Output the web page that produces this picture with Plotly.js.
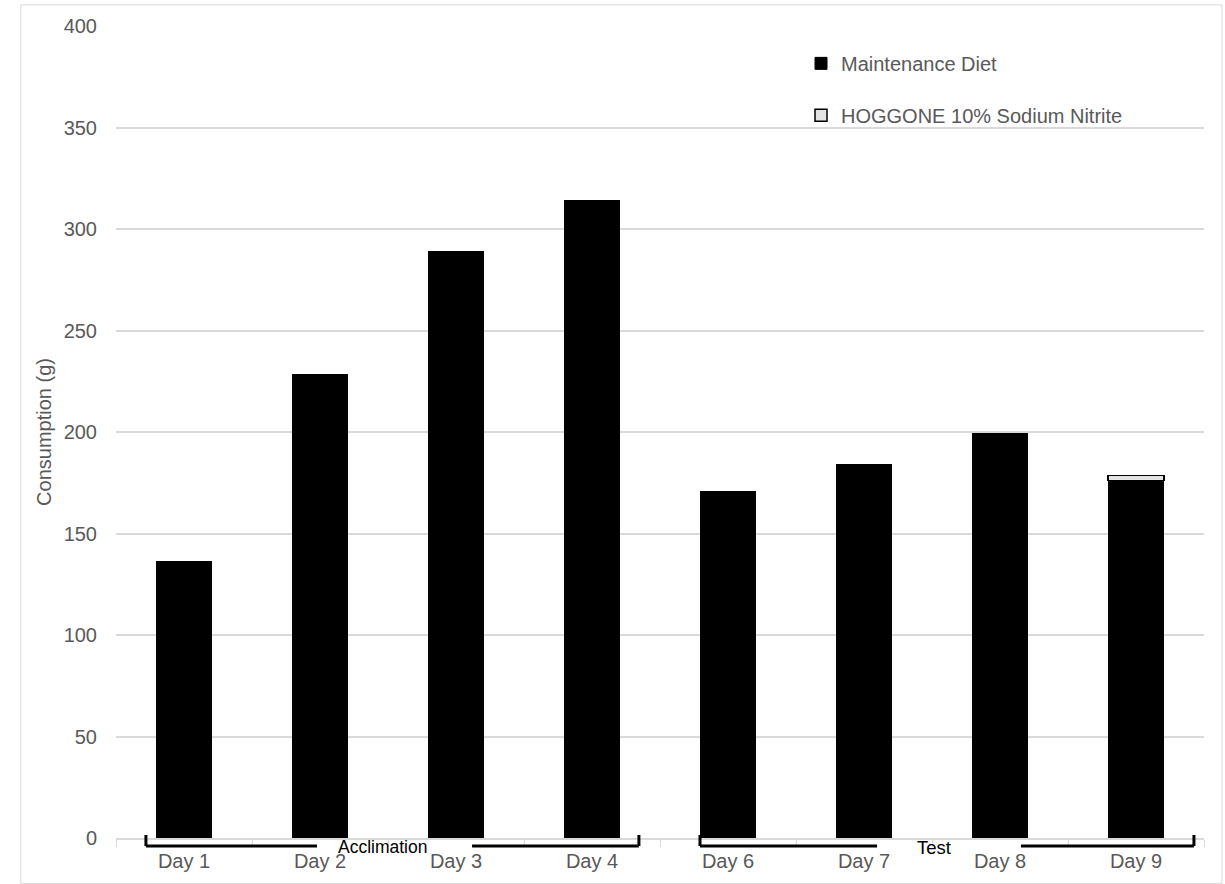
<!DOCTYPE html>
<html>
<head>
<meta charset="utf-8">
<script src="https://cdn.plot.ly/plotly-3.0.1.min.js"></script>
<style>html,body{margin:0;padding:0;background:#fff;}</style>
</head>
<body>
<div id="chart" style="width:1225px;height:884px;"></div>
<script>
var days = ["Day 1", "Day 2", "Day 3", "Day 4", "Day 6", "Day 7", "Day 8", "Day 9"];
var maintenance = [136, 228, 289, 314, 170.5, 184, 199, 176];
var hoggone = [0, 0, 0, 0, 0, 0, 0, 2.5];
var yTicks = [0, 50, 100, 150, 200, 250, 300, 350, 400];

var traces = [
  {type: "bar", name: "Maintenance Diet", x: days, y: maintenance, legendgroup: "a",
   marker: {color: "#000000", line: {color: "#000000", width: 1}}, hoverinfo: "x+y"},
  {type: "bar", name: "HOGGONE 10% Sodium Nitrite", x: days, y: hoggone, legendgroup: "b",
   marker: {color: "#e3e3e3", line: {color: "#000000", width: 1.5}}, hoverinfo: "x+y"}
];

var bracketY0 = 0.0037, bracketY1 = -0.0099;
var line = {color: "#000000", width: 3};
function seg(x0, y0, x1, y1) {
  return {type: "line", xref: "x", yref: "paper", x0: x0, y0: y0, x1: x1, y1: y1, line: line, layer: "above"};
}

var layout = {
  width: 1225, height: 884,
  margin: {l: 116, r: 21, t: 26, b: 46},
  paper_bgcolor: "#ffffff", plot_bgcolor: "#ffffff",
  barmode: "stack", bargap: 0.59,
  font: {family: "Liberation Sans, Arial, sans-serif", color: "#595959", size: 20},
  showlegend: true,
  legend: {x: 0.6296, y: 0.978, xanchor: "left", yanchor: "top", traceorder: "grouped",
           tracegroupgap: 23, font: {size: 20, color: "#595959"}, bgcolor: "rgba(0,0,0,0)"},
  xaxis: {type: "category", range: [-0.5, 7.5], showgrid: false, zeroline: false,
          showline: true, linecolor: "#d9d9d9", linewidth: 1.5,
          ticks: "outside", tickcolor: "#d9d9d9", ticklen: 7, tickson: "boundaries",
          ticklabelstandoff: 4,
          tickfont: {size: 20, color: "#595959"}},
  yaxis: {range: [0, 400], tickvals: yTicks, showgrid: true, gridcolor: "#d9d9d9", gridwidth: 1.5,
          zeroline: false, showline: false, ticks: "", ticklabelstandoff: 18,
          tickfont: {size: 20, color: "#595959"},
          title: {text: "Consumption (g)", font: {size: 20, color: "#595959"}, standoff: 6}},
  shapes: [
    {type: "rect", xref: "paper", yref: "paper", x0: -0.0875, x1: 1.0165, y0: -0.056, y1: 1.026,
     line: {color: "#d9d9d9", width: 1}, layer: "below"},
    seg(-0.28, bracketY0, -0.28, bracketY1),
    seg(-0.28, bracketY1, 0.978, bracketY1),
    seg(2.118, bracketY1, 3.345, bracketY1),
    seg(3.345, bracketY1, 3.345, bracketY0),
    seg(3.794, bracketY0, 3.794, bracketY1),
    seg(3.794, bracketY1, 5.096, bracketY1),
    seg(6.154, bracketY1, 7.426, bracketY1),
    seg(7.426, bracketY1, 7.426, bracketY0)
  ],
  annotations: [
    {text: "Acclimation", xref: "x", yref: "paper", x: 1.46, y: -0.011, showarrow: false,
     font: {size: 17.5, color: "#000000"}, yanchor: "middle"},
    {text: "Test", xref: "x", yref: "paper", x: 5.511, y: -0.0123, showarrow: false,
     font: {size: 18.5, color: "#000000"}, yanchor: "middle"}
  ]
};

Plotly.newPlot("chart", traces, layout, {displayModeBar: false, responsive: false});
</script>
</body>
</html>
